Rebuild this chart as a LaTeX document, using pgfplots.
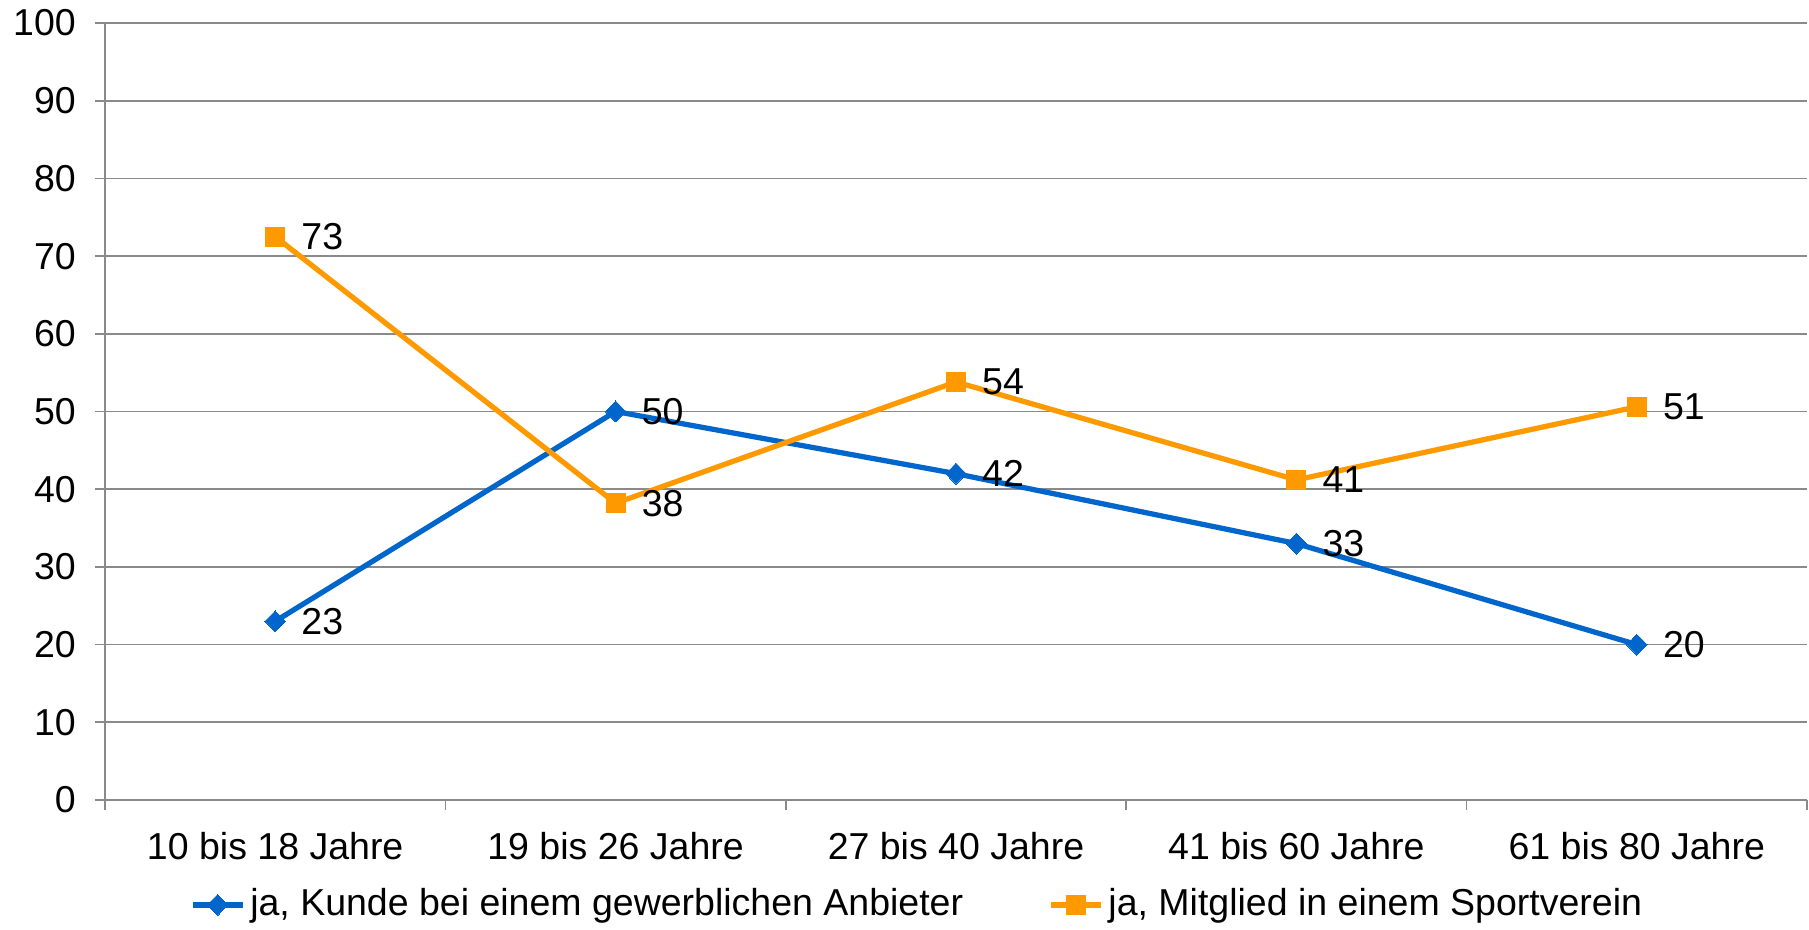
\documentclass[border=0pt]{standalone}
\usepackage{pgfplots}
\pgfplotsset{compat=1.18}
\usepackage{pgfplotstable}
\usepackage{fontspec}
\setmainfont{Liberation Sans}
\definecolor{cblue}{HTML}{0066CC}
\definecolor{corange}{HTML}{FF9900}
\definecolor{cgrid}{HTML}{8A8A8A}
\pgfplotstableread{
x y lab
0 23 23
1 50 50
2 42 42
3 33 33
4 20 20
}\kunde
\pgfplotstableread{
x y lab
0 72.5 73
1 38.2 38
2 53.8 54
3 41.2 41
4 50.6 51
}\verein
\begin{document}
\fontsize{15pt}{18pt}\selectfont
\begin{tikzpicture}
\begin{axis}[
  name=ax,
  scale only axis,
  width=680.8pt, height=310.8pt,
  xmin=-0.5, xmax=4.5, ymin=0, ymax=100,
  axis lines*=left,
  axis line style={draw=cgrid, line width=0.7pt},
  ytick={0,10,...,100},
  ymajorgrids,
  grid style={draw=cgrid, line width=0.7pt},
  tick align=outside,
  major tick length=4pt,
  tick style={draw=cgrid, line width=0.7pt},
  xtick={-0.5,0.5,1.5,2.5,3.5,4.5},
  xticklabels={,,,,,},
  extra x ticks={0,1,2,3,4},
  extra x tick labels={10 bis 18 Jahre,19 bis 26 Jahre,27 bis 40 Jahre,41 bis 60 Jahre,61 bis 80 Jahre},
  extra x tick style={major tick length=0pt, xticklabel style={yshift=-7.7pt}},
  /pgf/number format/assume math mode=true,
  yticklabel style={text=black, xshift=-2.5pt},
  xticklabel style={text=black},
  point meta=explicit symbolic,
  nodes near coords,
  every node near coord/.append style={anchor=west, xshift=5.5pt, text=black},
  legend columns=2,
  legend style={draw=none, fill=none, at={(0.478,-0.135)}, anchor=center,
    /tikz/every even column/.append style={column sep=32pt}},
  legend image code/.code={\draw[#1, mark repeat=2, mark phase=2] plot coordinates {(0pt,0pt) (10pt,0pt) (20pt,0pt)};},
]
\addplot[cblue, line width=2.1pt, line join=round, mark=diamond*, mark size=4.2pt, mark options={solid, xscale=1.3, fill=cblue, draw=cblue, line width=0pt}] table[x=x, y=y, meta=lab] {\kunde};
\addlegendentry{ja, Kunde bei einem gewerblichen Anbieter}
\addplot[corange, line width=2.1pt, line join=round, mark=square*, mark size=3.8pt, mark options={solid, fill=corange, draw=corange, line width=0pt}] table[x=x, y=y, meta=lab] {\verein};
\addlegendentry{ja, Mitglied in einem Sportverein}
\end{axis}
\pgfresetboundingbox
\path[use as bounding box] ([shift={(-42pt,-52pt)}]ax.south west) rectangle ([shift={(681.6pt,320pt)}]ax.south west);
\end{tikzpicture}
\end{document}
